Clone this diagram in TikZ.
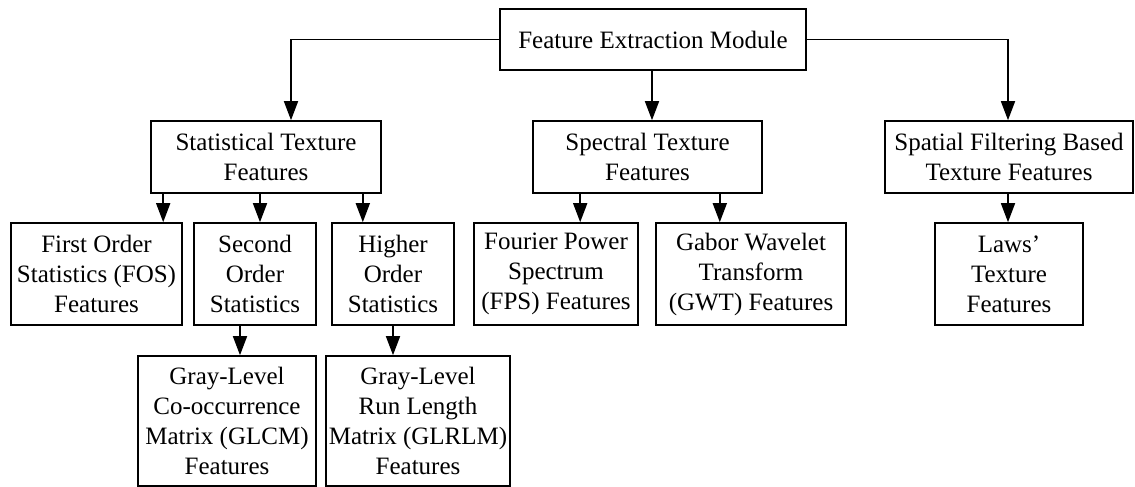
\documentclass[tikz,border=0pt]{standalone}
\usepackage{fontspec}
\setmainfont{Liberation Serif}
\usetikzlibrary{arrows.meta}

\begin{document}
\begin{tikzpicture}[x=1pt, y=-1pt,
  box/.style={draw, line width=1.6pt, inner sep=0pt, align=center,
              font=\fontsize{25}{30}\selectfont},
  lvlA/.style={box, minimum height=61pt},
  lvlB/.style={box, minimum height=72pt},
  lvlC/.style={box, minimum height=102pt},
  lvlD/.style={box, minimum height=130pt},
  arr/.style={line width=1.6pt, -{Triangle[length=19pt, width=14pt]}}]
\useasboundingbox (0,0) rectangle (1135,487);

% root
\node[lvlA, minimum width=306pt] (top) at (653,39.5) {Feature Extraction Module};

% texture families
\node[lvlB, minimum width=230pt] (stat) at (266,157) {Statistical Texture\\Features};
\node[lvlB, minimum width=229pt] (spec) at (647.5,157) {Spectral Texture\\Features};
\node[lvlB, minimum width=248pt] (spat) at (1009,157) {Spatial Filtering Based\\Texture Features};

% feature groups
\node[lvlC, minimum width=171pt] (fos)  at (96.5,274) {First Order\\Statistics (FOS)\\Features};
\node[lvlC, minimum width=122pt] (sec)  at (255,274)  {Second\\Order\\Statistics};
\node[lvlC, minimum width=122pt] (hig)  at (393,274)  {Higher\\Order\\Statistics};
\node[lvlC, minimum width=164pt] (fps)  at (556,274)  {Fourier Power\\Spectrum\\(FPS) Features};
\node[lvlC, minimum width=190pt] (gwt)  at (751,274)  {Gabor Wavelet\\Transform\\(GWT) Features};
\node[lvlC, minimum width=148pt] (laws) at (1009,274) {Laws’\\Texture\\Features};

% matrix-based features
\node[lvlD, minimum width=178pt] (glcm)  at (227,421) {Gray-Level\\Co-occurrence\\Matrix (GLCM)\\Features};
\node[lvlD, minimum width=184pt] (glrlm) at (418,421) {Gray-Level\\Run Length\\Matrix (GLRLM)\\Features};

% connectors from the root
\draw[arr] (top.west) -| ([xshift=25pt]stat.north);
\draw[arr] ([xshift=-1pt]top.south) -- ([xshift=-1pt]top.south |- spec.north);
\draw[arr] (top.east) -| ([xshift=-1pt]spat.north);

% statistical branch
\draw[arr] ([xshift=13pt]stat.south west) -- ([xshift=13pt]stat.south west |- fos.north);
\draw[arr] ([xshift=-6pt]stat.south) -- ([xshift=-6pt]stat.south |- sec.north);
\draw[arr] ([xshift=-19pt]stat.south east) -- ([xshift=-19pt]stat.south east |- hig.north);

% spectral branch
\draw[arr] ([xshift=48pt]spec.south west) -- ([xshift=48pt]spec.south west |- fps.north);
\draw[arr] ([xshift=-43pt]spec.south east) -- ([xshift=-43pt]spec.south east |- gwt.north);

% spatial branch
\draw[arr] ([xshift=-1pt]spat.south) -- ([xshift=-1pt]spat.south |- laws.north);

% second / higher order statistics
\draw[arr] ([xshift=-15pt]sec.south) -- ([xshift=-15pt]sec.south |- glcm.north);
\draw[arr] (hig.south) -- (hig.south |- glrlm.north);
\end{tikzpicture}
\end{document}
